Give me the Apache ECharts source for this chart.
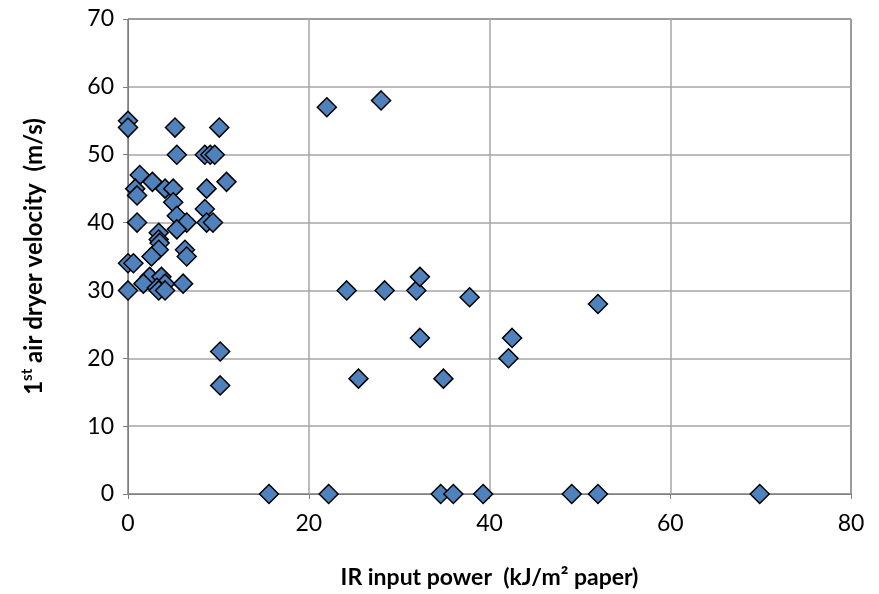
<!DOCTYPE html>
<html>
<head>
<meta charset="utf-8">
<script src="https://cdn.jsdelivr.net/npm/echarts@6/dist/echarts.min.js"></script>
<style>html,body{margin:0;padding:0;background:#fff}#chart{width:879px;height:594px}</style>
</head>
<body>
<div id="chart"></div>
<script>
// IR input power (kJ/m2 paper)
const irPower = [0,0,5.2,10.1,5.4,8.5,9.1,9.6,1.3,2.7,10.9,0.8,4.1,5.0,8.7,1.0,5.0,8.5,5.4,1.0,6.5,5.4,8.7,9.4,3.4,3.4,3.5,3.4,6.3,2.6,6.5,0,0.6,2.4,3.7,1.7,4.1,6.1,3.2,3.4,4.1,0,22,28,24.2,28.4,31.9,32.3,37.8,32.3,25.5,34.9,42.5,42.1,52,10.2,10.2,15.6,22.2,34.6,36.0,39.3,49.1,52.0,69.9]
// 1st air dryer velocity (m/s)
const velocity = [55,54,54,54,50,50,50,50,47,46,46,45,45,45,45,44,43,42,41,40,40,39,40,40,38.5,37.5,37,36,36,35,35,34,34,32,32,31,31,31,30.4,30,30,30,57,58,30,30,30,32,29,23,17,17,23,20,28,21,16,0,0,0,0,0,0,0,0]
const xTicks = [0,20,40,60,80]
const yTicks = [0,10,20,30,40,50,60,70]

const pts = irPower.map((x,i)=>[x,velocity[i]])
const font = "Lato, 'Open Sans', sans-serif"
const chart = echarts.init(document.getElementById("chart"))
chart.setOption({
  animation:false,
  grid:{left:128,right:28,top:19,bottom:99,show:true,borderColor:"#000",borderWidth:1},
  xAxis:{type:"value",min:xTicks[0],max:xTicks[xTicks.length-1],interval:20,
    name:"IR input power  (kJ/m² paper)",nameLocation:"middle",nameGap:72,
    nameTextStyle:{fontFamily:font,fontWeight:"bold",fontSize:23,color:"#000"},
    axisLine:{lineStyle:{color:"#808080",width:1}},axisTick:{show:true,length:5,lineStyle:{color:"#808080"}},
    axisLabel:{fontFamily:font,fontSize:23,color:"#000",margin:18},
    splitLine:{lineStyle:{color:"#a6a6a6",width:1.5}}},
  yAxis:{type:"value",min:yTicks[0],max:yTicks[yTicks.length-1],interval:10,
    name:"{a|1}{s|st}{a| air dryer velocity  (m/s)}",nameLocation:"middle",nameGap:82,
    nameTextStyle:{rich:{a:{fontFamily:font,fontWeight:"bold",fontSize:24,color:"#000",lineHeight:26,verticalAlign:"bottom"},
      s:{fontFamily:font,fontWeight:"bold",fontSize:15,color:"#000",lineHeight:26,verticalAlign:"top"}}},
    axisLine:{show:true,lineStyle:{color:"#808080",width:1}},axisTick:{show:true,length:5,lineStyle:{color:"#808080"}},
    axisLabel:{fontFamily:font,fontSize:23,color:"#000",margin:14},
    splitLine:{lineStyle:{color:"#a6a6a6",width:1.5}}},
  series:[{type:"scatter",data:pts,symbol:"diamond",symbolSize:[19,19],
    itemStyle:{color:"#4f81bd",borderColor:"#000",borderWidth:1.5,opacity:1}}]
})
</script>
</body>
</html>
